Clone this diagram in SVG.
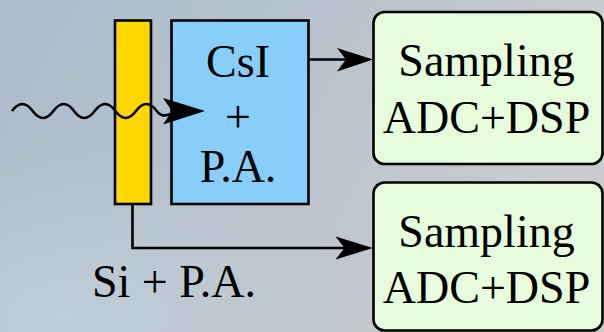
<svg xmlns="http://www.w3.org/2000/svg" width="604" height="332" viewBox="0 0 604 332">
  <style>
    .lbl { font-family: "Liberation Serif", "Times New Roman", serif; font-size: 46px; fill: #000; }
    .mid { text-anchor: middle; }
    .box { stroke: #000; stroke-width: 2.6; }
    .wire { fill: none; stroke: #000; stroke-width: 2.6; }
    .head { fill: #000; stroke: none; }
  </style>
  <defs>
    <linearGradient id="sky" x1="0" y1="0" x2="1" y2="0.3">
      <stop offset="0" stop-color="#abbccb"/>
      <stop offset="0.5" stop-color="#b8c3cd"/>
      <stop offset="1" stop-color="#c9cbce"/>
    </linearGradient>
    <radialGradient id="haze" cx="0.1" cy="0.95" r="0.5">
      <stop offset="0" stop-color="#c3cfd9" stop-opacity="0.8"/>
      <stop offset="1" stop-color="#c3cfd9" stop-opacity="0"/>
    </radialGradient>
  </defs>

  <!-- backdrop -->
  <rect x="0" y="0" width="604" height="332" fill="url(#sky)"/>
  <rect x="0" y="0" width="604" height="332" fill="url(#haze)"/>

  <!-- Si detector strip -->
  <g id="si-detector">
    <rect class="box" x="115" y="20.5" width="36" height="183.5" fill="#ffd700"/>
  </g>

  <!-- CsI crystal with preamp -->
  <g id="csi-block">
    <rect class="box" x="171.5" y="20.5" width="137" height="183.5" fill="#87cefa"/>
    <text class="lbl mid" x="238" y="77">CsI</text>
    <text class="lbl mid" x="238" y="131.5">+</text>
    <text class="lbl mid" x="238" y="182">P.A.</text>
  </g>

  <!-- Si preamp label -->
  <g id="si-label">
    <text class="lbl" x="92" y="296.5">Si + P.A.</text>
  </g>

  <!-- digitiser channels -->
  <g id="sampling-top">
    <rect class="box" x="373.5" y="12" width="229" height="152" rx="11" fill="#e6fcdc"/>
    <text class="lbl mid" x="486.5" y="76">Sampling</text>
    <text class="lbl mid" x="486.5" y="133">ADC+DSP</text>
  </g>
  <g id="sampling-bottom">
    <rect class="box" x="373.5" y="182.5" width="229" height="148" rx="11" fill="#e6fcdc"/>
    <text class="lbl mid" x="486.5" y="246.5">Sampling</text>
    <text class="lbl mid" x="486.5" y="303">ADC+DSP</text>
  </g>

  <!-- connectors -->
  <g id="connectors">
    <!-- incoming particle (wavy track) -->
    <path class="wire" d="M12,111 Q22.4,97 32.7,111 T53.4,111 T74,111 T94.7,111 T115.4,111 T136,111 T156.8,111 Q162,118 170,114"/>
    <polygon class="head" points="205,111 163,98 172,111 163,124.5"/>

    <!-- CsI to upper channel -->
    <path class="wire" d="M308.5,59.5 H348"/>
    <polygon class="head" points="373,59.5 337,48 346,59.5 337,71.5"/>

    <!-- Si to lower channel -->
    <path class="wire" d="M132.5,204 V248 H346"/>
    <polygon class="head" points="373,248 335.5,236.5 344.5,248 335.5,259.5"/>
  </g>
</svg>
